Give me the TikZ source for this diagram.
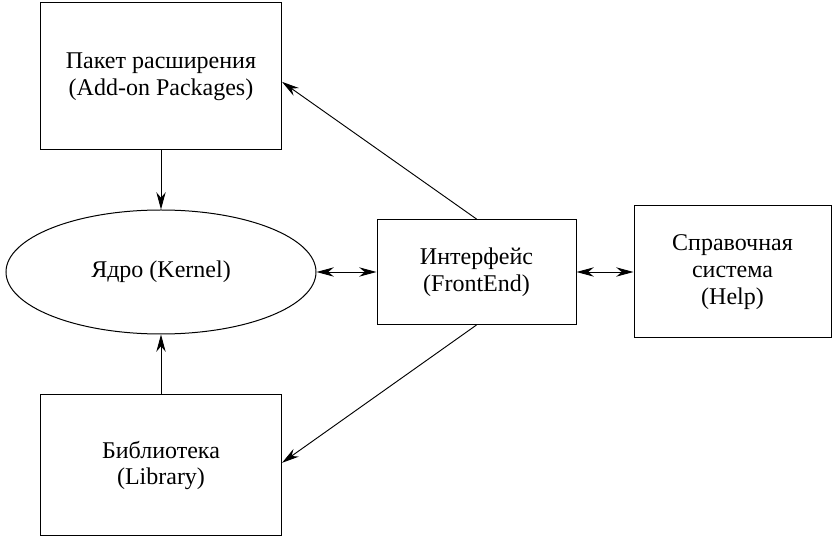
\documentclass[tikz,border=0pt]{standalone}
\usepackage{fontspec}
\setmainfont{Liberation Serif}
\usetikzlibrary{arrows.meta,shapes.geometric}

\begin{document}
\begin{tikzpicture}[x=0.75pt,y=-0.75pt,
    block/.style={draw, line width=0.75pt, align=center, inner sep=0pt,
        font=\fontsize{18}{20}\selectfont},
    link/.style={line width=0.7pt, -{Stealth[length=13pt,width=7pt]}},
    twoway/.style={line width=0.7pt, {Stealth[length=13pt,width=7pt]}-{Stealth[length=13pt,width=7pt]}}]
    \useasboundingbox (0,0) rectangle (833,538);

    \node[block, minimum width=180.75pt, minimum height=110.25pt] (Pkg) at (161,76.5) {Пакет расширения\\(Add-on Packages)};
    \node[block, ellipse, minimum width=232.5pt, minimum height=93pt] (Kernel) at (161,272) {Ядро (Kernel)};
    \node[block, minimum width=180.75pt, minimum height=105.75pt] (Lib) at (161,465.5) {Библиотека\\(Library)};
    \node[block, minimum width=149.25pt, minimum height=78.75pt] (FE) at (476.5,272) {Интерфейс\\(FrontEnd)};
    \node[block, minimum width=147.75pt, minimum height=99pt] (Help) at (732.5,272) {Справочная\\система\\(Help)};

    \draw[link] (Pkg) -- (Kernel);
    \draw[link] (Lib) -- (Kernel);
    \draw[link] (FE.north) -- ([yshift=-4pt]Pkg.east); % slightly below centre
    \draw[link] (FE.south) -- ([yshift=2pt]Lib.east);

    \draw[twoway] (Kernel.east) -- (FE.west);
    \draw[twoway] (FE.east) -- (Help.west);
\end{tikzpicture}
\end{document}
